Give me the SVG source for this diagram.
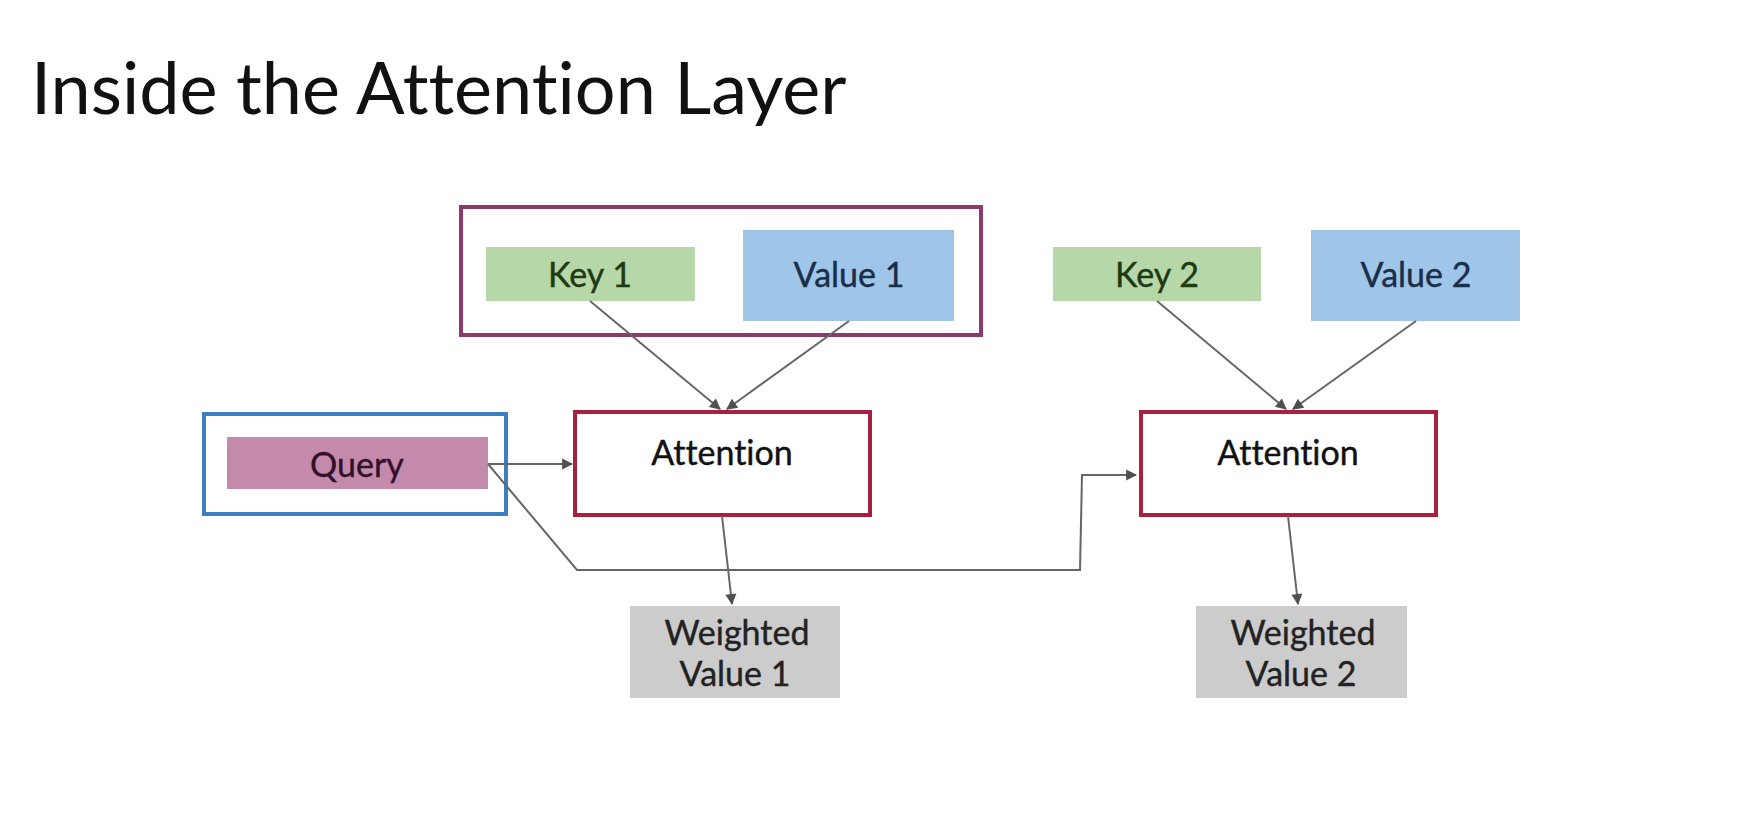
<svg xmlns="http://www.w3.org/2000/svg" width="1740" height="817" viewBox="0 0 1740 817">
<defs>
<marker id="arr" viewBox="0 0 10 10" refX="9" refY="5" markerWidth="12" markerHeight="11" orient="auto" markerUnits="userSpaceOnUse" style="overflow:visible">
<path d="M0,0 L10,5 L0,10 z" fill="#505050"/>
</marker>
<style>
text{font-family:Lato,"Liberation Sans",sans-serif;text-anchor:middle;font-variant-ligatures:none;font-feature-settings:"liga" 0}
.lbl{font-size:34px;stroke-width:0.4px}
.conn{fill:none;stroke:#666;stroke-width:2}
</style>
</defs>
<rect width="1740" height="817" fill="#fff"/>
<text x="31" y="114" style="font-size:72px;text-anchor:start" fill="#111">Inside the Attention Layer</text>

<g id="kv1-group"><rect x="461" y="207" width="520" height="128" fill="none" stroke="#8b3a6b" stroke-width="4"/></g>
<g id="key1"><rect x="486" y="247" width="209" height="54" fill="#b6d7a8"/><text class="lbl" x="590" y="287" fill="#1e3a12" stroke="#1e3a12">Key 1</text></g>
<g id="value1"><rect x="743" y="230" width="211" height="91" fill="#9fc5e8"/><text class="lbl" x="849" y="287" fill="#1a2e4a" stroke="#1a2e4a">Value 1</text></g>
<g id="key2"><rect x="1053" y="247" width="208" height="54" fill="#b6d7a8"/><text class="lbl" x="1157" y="287" fill="#1e3a12" stroke="#1e3a12">Key 2</text></g>
<g id="value2"><rect x="1311" y="230" width="209" height="91" fill="#9fc5e8"/><text class="lbl" x="1416" y="287" fill="#1a2e4a" stroke="#1a2e4a">Value 2</text></g>
<g id="query-group"><rect x="204" y="414" width="302" height="100" fill="none" stroke="#3d7fc0" stroke-width="4"/></g>
<g id="query"><rect x="227" y="437" width="261" height="52" fill="#c48aab"/><text class="lbl" x="357" y="477" fill="#33102a" stroke="#33102a">Query</text></g>
<g id="attention1"><rect x="575" y="412" width="295" height="103" fill="#fff" stroke="#a8203e" stroke-width="4"/><text class="lbl" x="722" y="465" fill="#111" stroke="#111">Attention</text></g>
<g id="attention2"><rect x="1141" y="412" width="295" height="103" fill="#fff" stroke="#a8203e" stroke-width="4"/><text class="lbl" x="1288" y="465" fill="#111" stroke="#111">Attention</text></g>
<g id="weighted1"><rect x="630" y="606" width="210" height="92" fill="#cccccc"/><text class="lbl" x="737" y="645" fill="#222" stroke="#222">Weighted</text><text class="lbl" x="735" y="686" fill="#222" stroke="#222">Value 1</text></g>
<g id="weighted2"><rect x="1196" y="606" width="211" height="92" fill="#cccccc"/><text class="lbl" x="1303" y="645" fill="#222" stroke="#222">Weighted</text><text class="lbl" x="1301" y="686" fill="#222" stroke="#222">Value 2</text></g>

<g id="connectors">
<line class="conn" x1="590" y1="301" x2="720" y2="409" marker-end="url(#arr)"/>
<line class="conn" x1="849" y1="321" x2="727" y2="409" marker-end="url(#arr)"/>
<line class="conn" x1="1157" y1="301" x2="1286" y2="409" marker-end="url(#arr)"/>
<line class="conn" x1="1416" y1="321" x2="1293" y2="409" marker-end="url(#arr)"/>
<line class="conn" x1="488" y1="464" x2="572" y2="464" marker-end="url(#arr)"/>
<polyline class="conn" points="488,464 577,570 1080,570 1082,475 1136,475" marker-end="url(#arr)"/>
<line class="conn" x1="722" y1="516" x2="732" y2="604" marker-end="url(#arr)"/>
<line class="conn" x1="1288" y1="516" x2="1298" y2="604" marker-end="url(#arr)"/>
</g>
</svg>
